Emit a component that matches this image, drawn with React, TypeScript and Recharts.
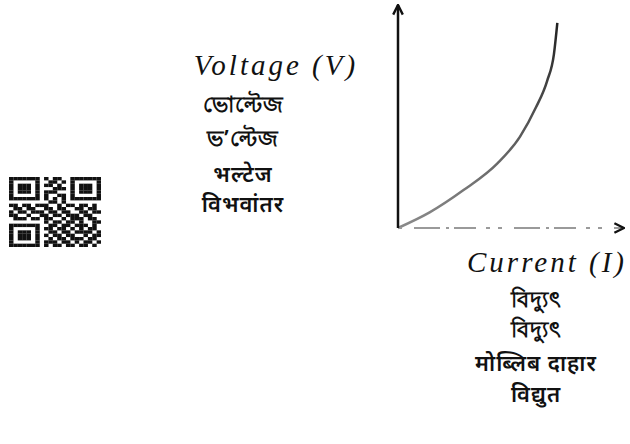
import { Line, LineChart, XAxis, YAxis } from 'recharts'

// I–V curve (arbitrary units, axes have no ticks)
const current = [0, 1.4, 2.9, 4.4, 5.4, 6.1, 6.6, 6.9, 7.05]
const voltage = [0, 0.7, 1.7, 2.9, 4.1, 5.4, 6.6, 7.8, 9.2]

const voltageLabels = ['ভোল্টেজ', 'ভ’ল্টেজ', 'भल्टेज', 'विभवांतर']
const currentLabels = ['বিদ্যুৎ', 'বিদ্যুৎ', 'मोब्लिब दाहार', 'विद्युत']
const voltageLabelTops = [89, 123, 159, 189]
const currentLabelTops = [284, 314, 348, 379]

// QR code decoration in the left margin
const qrRows = [
  '111111101011001111111',
  '100000100110101000001',
  '101110101101001011101',
  '101110100011101011101',
  '101110101110001011101',
  '100000101001101000001',
  '111111101010101111111',
  '000000000110100000000',
  '110110111001011011010',
  '011011001101100110110',
  '101101110110110011011',
  '110010011011011101100',
  '011101101100101110110',
  '000000001011011010011',
  '111111100110110111010',
  '100000101101101010110',
  '101110100110110111101',
  '101110101011011001011',
  '101110100101101110110',
  '100000101110110101101',
  '111111101011011011010',
]

const data = current.map((c, i) => ({ current: c, voltage: voltage[i] }))

const indicFont = '"Noto Sans", "DejaVu Sans", sans-serif'
const titleFont = '"Liberation Serif", serif'

export default function App() {
  return (
    <div style={{ position: 'fixed', left: 0, top: 0, width: 630, height: 444, background: '#fff', overflow: 'hidden' }}>
      <svg width={0} height={0} style={{ position: 'absolute' }}>
        <defs>
          <marker id="arrowHead" viewBox="0 0 10 10" refX={9} refY={5} markerWidth={12} markerHeight={12}
            markerUnits="userSpaceOnUse" orient="auto-start-reverse">
            <path d="M1,1 L9,5 L1,9" fill="none" stroke="#111" strokeWidth={2} />
          </marker>
          <linearGradient id="curveShade" x1="0" y1="0" x2="0" y2="1">
            <stop offset="0%" stopColor="#222" />
            <stop offset="100%" stopColor="#8a8a8a" />
          </linearGradient>
        </defs>
      </svg>

      <LineChart width={630} height={444} data={data} margin={{ top: 5, right: 6, left: 397, bottom: 215 }}>
        <XAxis
          dataKey="current"
          type="number"
          domain={[0, 10]}
          height={1}
          tick={false}
          tickLine={false}
          axisLine={{ stroke: '#9a9a9a', strokeWidth: 2, strokeDasharray: '4 12 26 6 3 5 22 10 4 8', markerEnd: 'url(#arrowHead)' }}
        />
        <YAxis
          type="number"
          domain={[0, 10]}
          width={1}
          tick={false}
          tickLine={false}
          axisLine={{ stroke: '#111', strokeWidth: 2.5, markerStart: 'url(#arrowHead)' }}
        />
        <Line
          dataKey="voltage"
          type="monotone"
          stroke="url(#curveShade)"
          strokeWidth={2.5}
          dot={false}
          isAnimationActive={false}
        />
      </LineChart>

      <div style={{ position: 'absolute', left: 136, top: 49, width: 280, textAlign: 'center', fontFamily: titleFont, fontStyle: 'italic', fontSize: 29, letterSpacing: 3, color: '#111' }}>
        Voltage (V)
      </div>
      {voltageLabels.map((t, i) => (
        <div key={i} style={{ position: 'absolute', left: 153, top: voltageLabelTops[i], width: 180, textAlign: 'center', fontFamily: indicFont, fontSize: 22, fontWeight: 600, letterSpacing: 1, lineHeight: '28px', color: '#111' }}>
          {t}
        </div>
      ))}

      <div style={{ position: 'absolute', left: 435, top: 246, width: 224, textAlign: 'center', fontFamily: titleFont, fontStyle: 'italic', fontSize: 29, letterSpacing: 3, color: '#111' }}>
        Current (I)
      </div>
      {currentLabels.map((t, i) => (
        <div key={i} style={{ position: 'absolute', left: 436, top: currentLabelTops[i], width: 200, textAlign: 'center', fontFamily: indicFont, fontSize: 22, fontWeight: 600, letterSpacing: 1, lineHeight: '28px', color: '#111' }}>
          {t}
        </div>
      ))}

      <svg width={92} height={70} viewBox="0 0 21 21" preserveAspectRatio="none" style={{ position: 'absolute', left: 9, top: 177 }}>
        {qrRows.map((row, r) =>
          row.split('').map((cell, c) =>
            cell === '1' ? <rect key={`${r}-${c}`} x={c} y={r} width={1.02} height={1.02} fill="#111" /> : null,
          ),
        )}
      </svg>
    </div>
  )
}
